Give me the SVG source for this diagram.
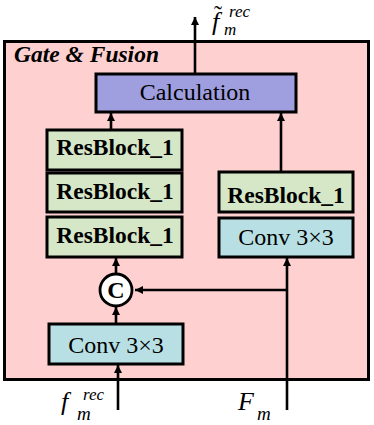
<svg xmlns="http://www.w3.org/2000/svg" width="374" height="425" viewBox="0 0 374 425">
<defs>
<marker id="ah" viewBox="0 0 10 10" refX="10" refY="5" markerWidth="3.2" markerHeight="3.2" orient="auto" markerUnits="strokeWidth">
<path d="M0,0 L10,5 L0,10 Z" fill="#000"/>
</marker>
</defs>
<rect width="374" height="425" fill="#fff"/>
<g id="gate-fusion">
<rect x="4.5" y="41.5" width="364" height="338" fill="#ffd0d0" stroke="#000" stroke-width="3"/>
<text x="14" y="62" font-family="Liberation Serif" font-weight="bold" font-style="italic" font-size="23.5">Gate &amp; Fusion</text>
</g>
<g id="connectors" stroke="#000" stroke-width="2.6" fill="none">
<line x1="195" y1="73" x2="195" y2="17" marker-end="url(#ah)"/>
<line x1="111" y1="129" x2="111" y2="113" marker-end="url(#ah)"/>
<line x1="281" y1="172" x2="281" y2="113" marker-end="url(#ah)"/>
<line x1="116" y1="273" x2="116" y2="258" marker-end="url(#ah)"/>
<line x1="116" y1="324" x2="116" y2="307" marker-end="url(#ah)"/>
<line x1="118" y1="410" x2="118" y2="365" marker-end="url(#ah)"/>
<line x1="287" y1="410" x2="287" y2="258" marker-end="url(#ah)"/>
<line x1="287" y1="290" x2="135" y2="290" marker-end="url(#ah)"/>
</g>
<g id="calculation">
<rect x="96" y="74" width="200" height="38" fill="#9f9edf" stroke="#000" stroke-width="3"/>
<text x="195" y="100" font-family="Liberation Serif" font-size="24" text-anchor="middle">Calculation</text>
</g>
<g id="resblock-l1">
<rect x="47" y="130" width="135" height="40" fill="#d6e7c8" stroke="#000" stroke-width="3"/>
<text x="115" y="155" font-family="Liberation Serif" font-weight="bold" font-size="23.5" text-anchor="middle">ResBlock_1</text>
</g>
<g id="resblock-l2">
<rect x="47" y="173" width="135" height="39" fill="#d6e7c8" stroke="#000" stroke-width="3"/>
<text x="115" y="199" font-family="Liberation Serif" font-weight="bold" font-size="23.5" text-anchor="middle">ResBlock_1</text>
</g>
<g id="resblock-l3">
<rect x="47" y="217" width="135" height="40" fill="#d6e7c8" stroke="#000" stroke-width="3"/>
<text x="115" y="243" font-family="Liberation Serif" font-weight="bold" font-size="23.5" text-anchor="middle">ResBlock_1</text>
</g>
<g id="resblock-r">
<rect x="219" y="172" width="134" height="40" fill="#d6e7c8" stroke="#000" stroke-width="3"/>
<text x="286" y="203" font-family="Liberation Serif" font-weight="bold" font-size="23.5" text-anchor="middle">ResBlock_1</text>
</g>
<g id="conv-r">
<rect x="219" y="218" width="134" height="39" fill="#b8e0e4" stroke="#000" stroke-width="3"/>
<text x="286" y="245" font-family="Liberation Serif" font-size="24" text-anchor="middle">Conv 3×3</text>
</g>
<g id="concat">
<circle cx="116" cy="290" r="16" fill="#fff" stroke="#000" stroke-width="2.8"/>
<text x="116" y="298" font-family="Liberation Serif" font-weight="bold" font-size="24" text-anchor="middle">C</text>
</g>
<g id="conv-l">
<rect x="49" y="324" width="134" height="40" fill="#b8e0e4" stroke="#000" stroke-width="3"/>
<text x="116" y="353" font-family="Liberation Serif" font-size="24" text-anchor="middle">Conv 3×3</text>
</g>
<g id="label-out" font-family="Liberation Serif">
<text x="214" y="22" font-size="24">˜</text>
<text x="212" y="30" font-style="italic" font-size="26">f</text>
<text x="224" y="35" font-style="italic" font-size="17">m</text>
<text x="229" y="17" font-style="italic" font-size="17">rec</text>
</g>
<g id="label-f" font-family="Liberation Serif">
<text x="61" y="410" font-style="italic" font-size="26">f</text>
<text x="77" y="420" font-style="italic" font-size="19">m</text>
<text x="83" y="400" font-style="italic" font-size="17">rec</text>
</g>
<g id="label-F" font-family="Liberation Serif">
<text x="238" y="410" font-style="italic" font-size="26">F</text>
<text x="257" y="420" font-style="italic" font-size="19">m</text>
</g>
</svg>
